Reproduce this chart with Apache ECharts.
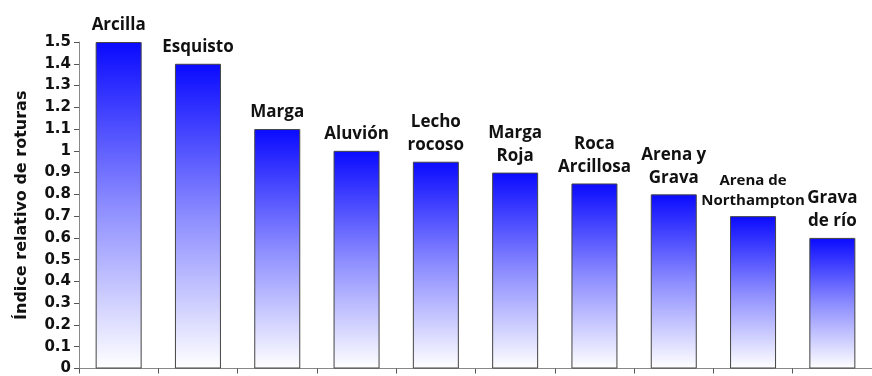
<!DOCTYPE html>
<html><head><meta charset="utf-8">
<script src="https://cdn.jsdelivr.net/npm/echarts@6/dist/echarts.min.js"></script>
<style>html,body{margin:0;padding:0;background:#fff}#c{width:872px;height:376px}</style>
</head><body><div id="c"></div>
<script>
const categories = ['Arcilla','Esquisto','Marga','Aluvión','Lecho\nrocoso','Marga\nRoja','Roca\nArcillosa','Arena y\nGrava','Arena de\nNorthampton','Grava\nde río'];
const values = [1.5,1.4,1.1,1.0,0.95,0.9,0.85,0.8,0.7,0.6];
const yTicks = [0,0.1,0.2,0.3,0.4,0.5,0.6,0.7,0.8,0.9,1,1.1,1.2,1.3,1.4,1.5];
const yName = 'Índice relativo de roturas';

const chart = echarts.init(document.getElementById('c'), null, {renderer:'canvas'});
const grad = new echarts.graphic.LinearGradient(0,0,0,1,[
  {offset:0,color:'#0a0aff'},{offset:0.5,color:'#8c8cff'},{offset:1,color:'#ffffff'}]);
chart.setOption({
  animation:false,
  grid:{left:79,right:-12,top:42,bottom:3,containLabel:false},
  xAxis:{type:'category',data:categories,
    axisLine:{lineStyle:{color:'#888',width:1}},
    axisTick:{show:true,interval:0,length:5,lineStyle:{color:'#555'}},
    axisLabel:{show:false,interval:0},splitLine:{show:false}},
  yAxis:{type:'value',min:0,max:1.5,interval:0.1,
    name:yName,nameLocation:'middle',nameGap:49,
    nameTextStyle:{fontFamily:'DejaVu Sans',fontWeight:'bold',fontSize:16,color:'#111'},
    axisLine:{show:true,lineStyle:{color:'#888'}},
    axisTick:{show:true,length:5,lineStyle:{color:'#555'}},
    axisLabel:{fontFamily:'DejaVu Sans',fontWeight:'bold',fontSize:15,color:'#111',margin:8,
      formatter:v=>{const t=yTicks.find(x=>Math.abs(x-v)<1e-9);return t===undefined?'':String(t);}},
    splitLine:{show:false}},
  series:[{type:'bar',data:values.map((v,i)=>({value:v,
      label:i===8?{fontSize:15,lineHeight:20}:undefined})),
    barWidth:46,
    itemStyle:{color:grad,borderColor:'#444',borderWidth:1},
    label:{show:true,position:'top',distance:5,formatter:p=>p.name,
      fontFamily:'Open Sans',fontWeight:'bold',fontSize:17,lineHeight:23,color:'#111',align:'center'}
  }]
});
</script></body></html>
